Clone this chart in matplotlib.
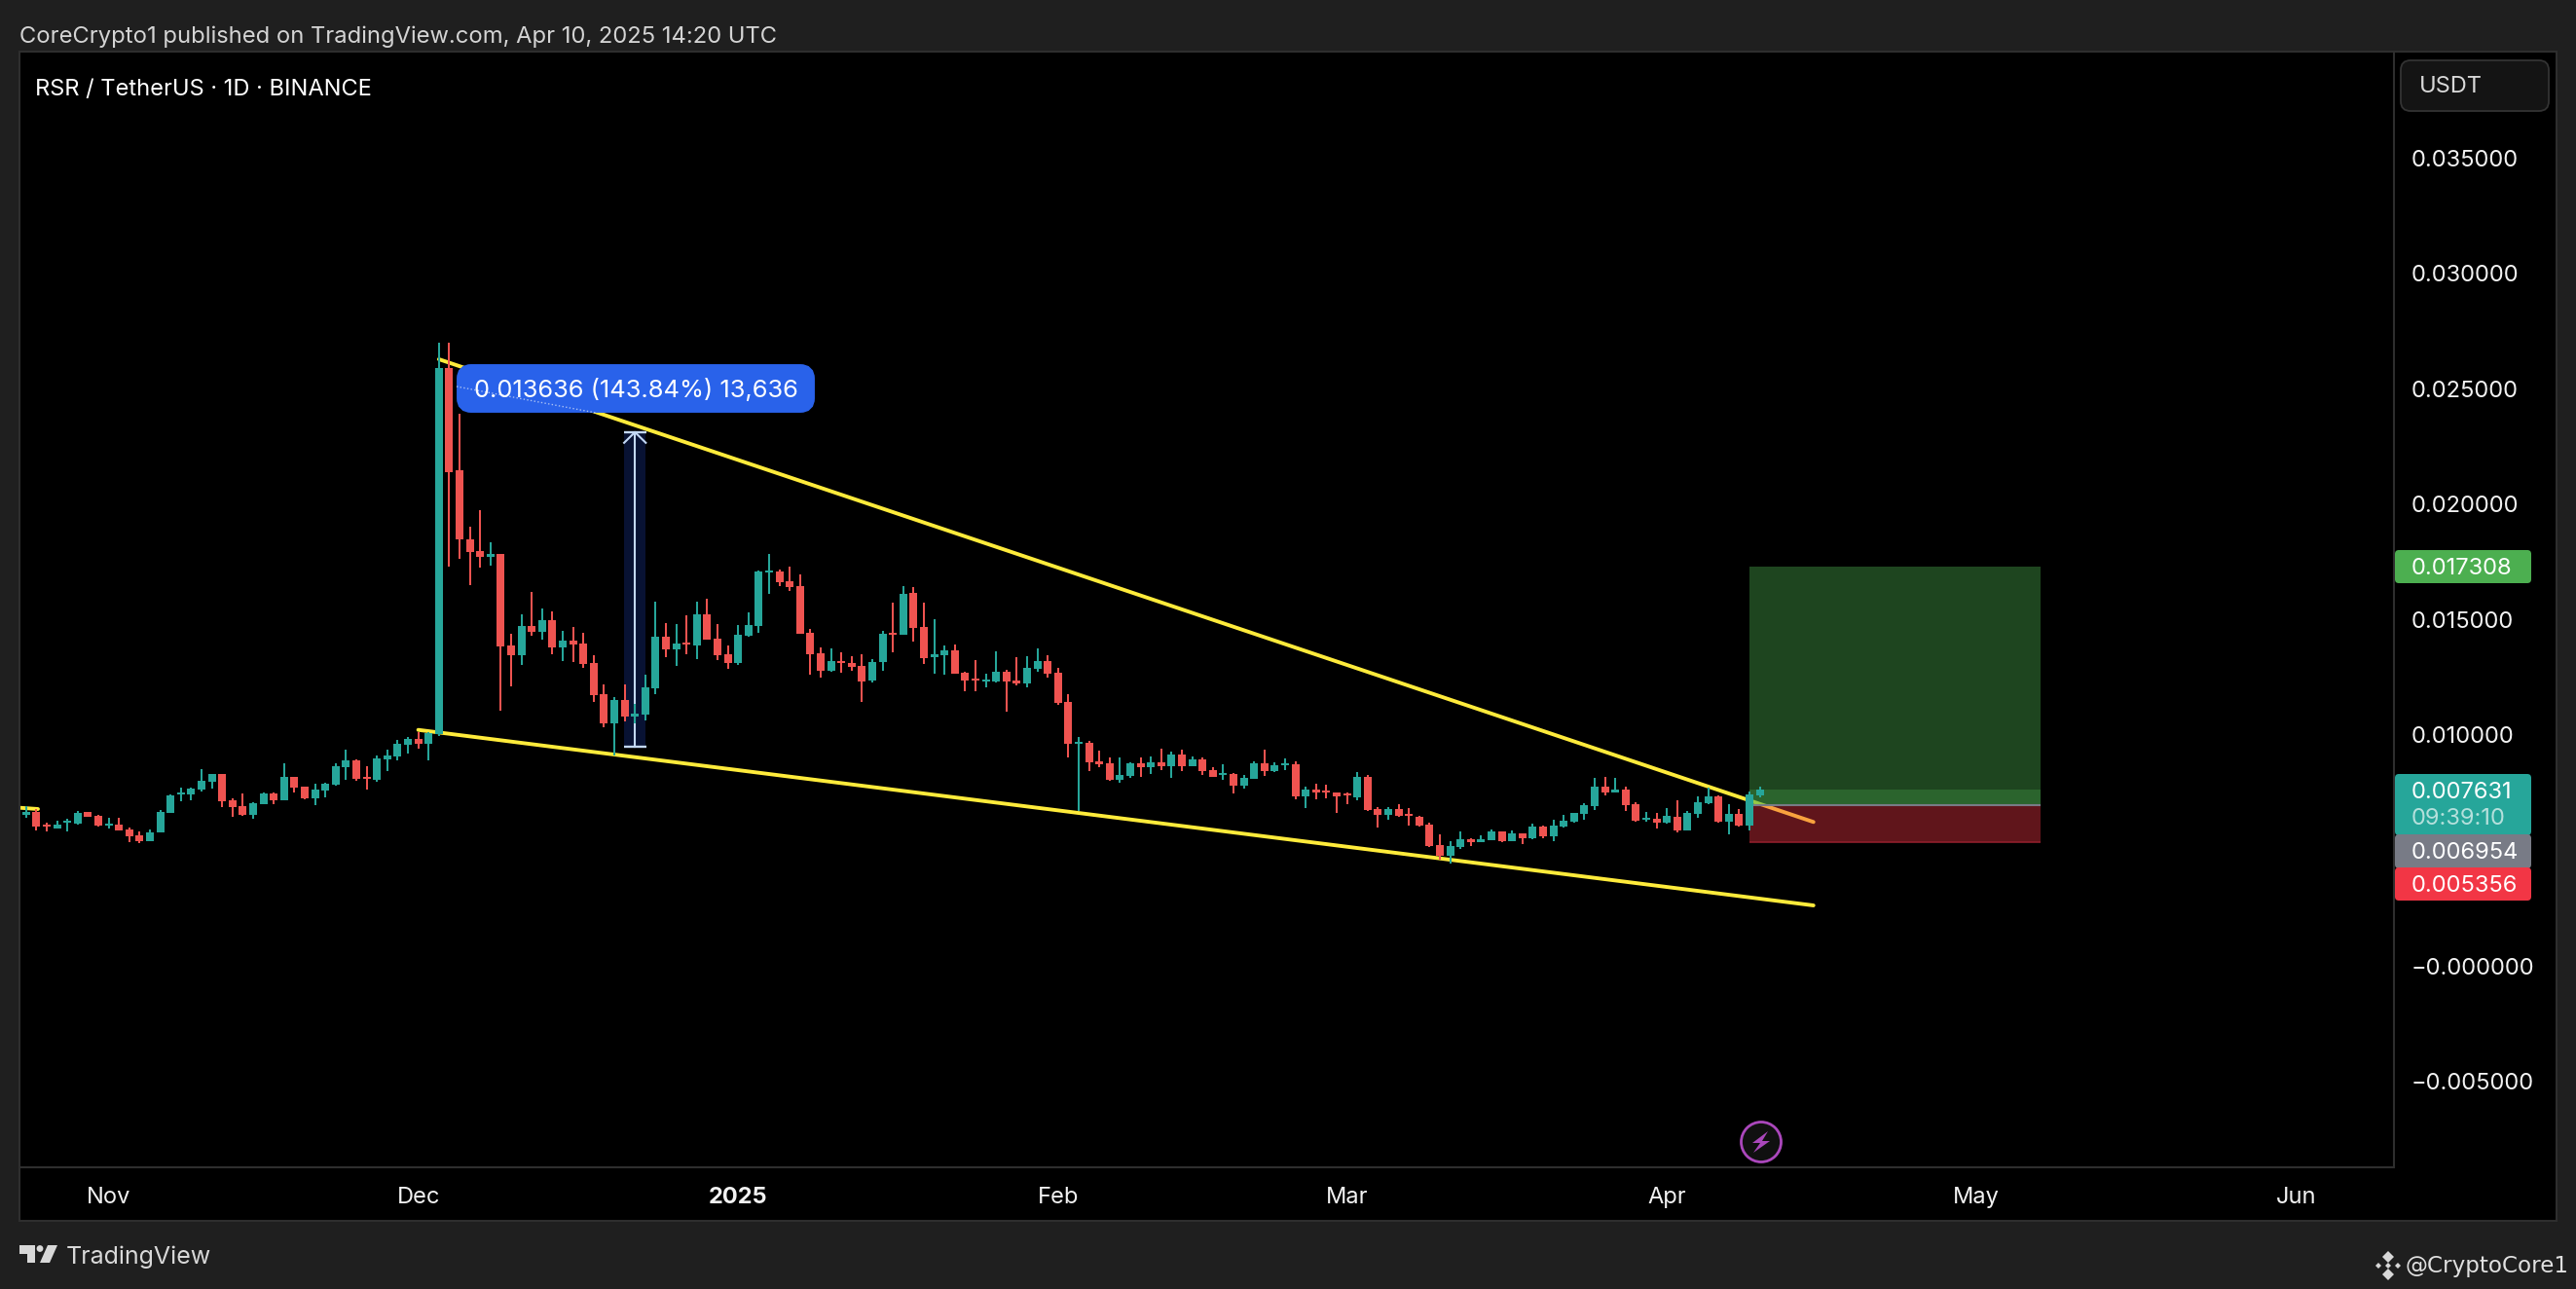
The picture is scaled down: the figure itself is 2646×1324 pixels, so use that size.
import matplotlib
matplotlib.use('Agg')
import matplotlib.pyplot as plt
import numpy as np
import pandas as pd
from matplotlib.patches import Rectangle, FancyBboxPatch, Polygon, Circle

plt.rcParams['font.family'] = ['Inter', 'DejaVu Sans']

# prices in millionths of a USDT, one value per daily candle
first_day = '2024-10-24'
high = [6917,6788,6191,6287,6368,6707,6659,6529,6400,6400,
        5981,5820,5900,6755,7417,7723,7723,8514,8304,8304,
        7255,7465,7078,7498,7530,8772,8191,7756,7885,7933,
        8772,9369,8950,8643,9095,9369,9773,9934,10144,10144,
        27005,27005,23907,19018,19744,18340,17840,14387,15226,16194,
        15484,15355,14516,14678,14420,13451,12193,11628,12179,11350,
        12600,15776,14849,14807,15186,15776,15903,14807,13879,14764,
        15313,17125,17842,17167,17294,16957,14596,13795,13753,13584,
        13415,13500,13289,14512,15734,16451,16409,15734,15017,13879,
        13921,12741,13247,12657,13626,12825,13373,13415,13753,13458,
        12909,11771,9916,9748,9326,9031,9031,8820,9031,9073,
        9410,9284,9368,9073,9031,8609,8735,8356,8272,8862,
        9368,8820,8988,8862,7766,7892,7850,7513,7513,8398,
        8272,6881,6881,7007,6838,6501,6206,5700,5405,5826,
        5532,5658,5911,5826,5869,5742,6164,6080,6332,6543,
        6628,7049,8145,8187,8145,7766,7091,6670,6628,6838,
        7176,6712,7344,7724,7387,7007,6796,7555,7766]
low = [6417,5868,5820,5949,5820,6142,6449,6029,5949,5868,
       5352,5319,5400,5787,6626,7126,7191,7546,7675,6884,
       6449,6497,6368,6997,6997,7175,7514,7207,6965,7304,
       7804,8062,8014,7643,7965,8433,8901,9192,9401,8901,
       9950,17291,17630,16485,17243,17340,11047,12112,13032,14290,
       14129,13500,13209,13161,12919,11434,10353,9127,10591,10506,
       10633,11785,13373,12994,13500,13289,14132,13247,12867,13036,
       14259,14427,16113,16451,16240,14385,12614,12488,12741,12699,
       12783,11434,12277,12783,13584,14343,14048,13078,12657,12614,
       12657,11898,11898,12066,12277,11012,12151,12066,12741,12488,
       11308,9031,6698,8440,8609,8019,7935,8145,8188,8314,
       8483,8145,8440,8651,8272,8187,8061,7471,7682,8103,
       8230,8398,8483,7218,6838,7218,7260,6628,7007,7176,
       6712,5995,6332,6459,6079,6037,5152,4604,4435,5068,
       5194,5363,5447,5363,5405,5279,5489,5532,5405,5995,
       6206,6332,6754,7386,7513,6712,6248,6248,5953,6164,
       5785,5869,6417,7007,6206,5700,6037,5869,7302]
open_ = [6562,6659,6110,5965,6191,6158,6659,6497,6094,6110,
         5900,5658,5400,5787,6626,7417,7449,7627,7965,8304,
         7175,6917,6562,6997,7465,7175,8191,7756,7255,7594,
         7869,8627,8885,8175,8046,8950,9079,9579,9821,9612,
         10031,25875,21470,18469,17969,17695,17840,13871,13451,14726,
         14468,14968,13807,14081,13968,13113,11774,10499,11518,10801,
         10886,12024,14259,13710,14006,13879,15228,14174,13500,13120,
         14301,14722,17041,17083,16662,16451,14427,13542,12783,13205,
         13120,12994,12361,13162,14427,14343,16156,14680,13373,13458,
         13668,12699,12446,12319,12319,12741,12361,12235,12867,13205,
         12699,11434,9621,9663,8862,8778,8061,8230,8778,8609,
         8820,8651,9157,8651,8946,8483,8272,8314,7808,8103,
         8778,8440,8693,8735,7344,7639,7597,7513,7471,7302,
         8187,6796,6543,6796,6585,6459,6122,5236,4773,5152,
         5489,5363,5447,5826,5405,5742,5532,6037,5616,6037,
         6248,6585,6923,7766,7513,7640,7007,6333,6375,6206,
         6459,5869,6586,7049,7344,6248,6586,6080,7387]
close = [6659,6029,6029,6126,6271,6642,6449,6078,6174,5868,
         5610,5400,5803,6659,7385,7514,7675,8014,8304,7126,
         6884,6562,7046,7465,7159,8191,7723,7239,7643,7885,
         8643,8885,8094,8111,8982,9111,9612,9821,9612,10095,
         25875,21390,18453,17937,17711,17840,13855,13451,14726,14468,
         14968,13807,14081,13919,13080,11725,10499,11516,10801,10928,
         12066,14259,13710,13963,13921,15228,14132,13458,13120,14343,
         14764,17083,17125,16619,16409,14385,13500,12783,13205,13120,
         12952,12319,13162,14385,14343,16113,14638,13331,13500,13668,
         12657,12361,12361,12404,12741,12319,12235,12909,13205,12657,
         11392,9621,9705,8820,8736,8061,8272,8778,8609,8820,
         8651,9157,8651,8946,8440,8187,8356,7808,8145,8778,
         8440,8693,8778,7344,7639,7513,7513,7344,7386,8187,
         6754,6543,6796,6501,6501,6079,5194,4773,5194,5489,
         5363,5489,5826,5405,5742,5532,6037,5616,6080,6290,
         6628,6965,7766,7513,7640,6965,6290,6417,6206,6501,
         5869,6628,7091,7344,6248,6586,6080,7429,7631]

# drawing tools, x in days since first_day, price in millionths
upper_x = [40, 173.2]
upper_p = [26274, 6235]
lower_x = [38, 173.2]
lower_p = [10223, 2622]
stub_x = [-0.64, 1.15]
stub_p = [6851, 6796]
measure_x = 59
measure_from = 9480
measure_to = 23116
pos_x = [167, 195.2]
pos_target = 17308
pos_entry = 6954
pos_stop = 5356
last_close = 7631

price_ticks = [35000, 30000, 25000, 20000, 15000, 10000, 0, -5000]
month_dates = ['2024-11-01', '2024-12-01', '2025-01-01', '2025-02-01', '2025-03-01',
               '2025-04-01', '2025-05-01', '2025-06-01']
month_labels = ['Nov', 'Dec', '2025', 'Feb', 'Mar', 'Apr', 'May', 'Jun']

TEAL = '#26a69a'
RED = '#ef5350'
YELLOW = '#ffeb3b'
PANEL = '#1f1f1f'
EDGE = '#2e2e2e'

W, H = 2646, 1324
fig = plt.figure(figsize=(W / 100, H / 100), dpi=100, facecolor=PANEL)

# frame behind everything, in pixels
bg = fig.add_axes([0, 0, 1, 1], zorder=0)
bg.set_xlim(0, W)
bg.set_ylim(H, 0)
bg.axis('off')
bg.add_patch(Rectangle((20, 53), 2606, 1201, fc='black', ec=EDGE, lw=1.5))

ax = fig.add_axes([20 / W, (H - 1199) / H, 2439 / W, 1146 / H], zorder=1)
ax.set_facecolor('black')
ax.set_xlim(-0.6415, 229.45)
ax.set_ylim(-8719 / 1e6, 39596 / 1e6)
for s in ax.spines.values():
    s.set_color(EDGE)
    s.set_linewidth(1.5)

days = np.arange(len(close))
o = np.array(open_) / 1e6
c = np.array(close) / 1e6
hi = np.array(high) / 1e6
lo = np.array(low) / 1e6
colors = [TEAL if b >= a else RED for a, b in zip(o, c)]

# trend lines go under the position box
ax.plot(upper_x, np.array(upper_p) / 1e6, color=YELLOW, lw=2.8, solid_capstyle='round', zorder=2)
ax.plot(lower_x, np.array(lower_p) / 1e6, color=YELLOW, lw=2.8, solid_capstyle='round', zorder=2)
ax.plot(stub_x, np.array(stub_p) / 1e6, color=YELLOW, lw=2.8, solid_capstyle='round', zorder=2)

# long position box
t, e, st, lc = pos_target / 1e6, pos_entry / 1e6, pos_stop / 1e6, last_close / 1e6
bw = pos_x[1] - pos_x[0]
ax.add_patch(Rectangle((pos_x[0], e), bw, t - e, fc='#4caf50', alpha=0.4, lw=0, zorder=3))
ax.add_patch(Rectangle((pos_x[0], e), bw, lc - e, fc='#4caf50', alpha=0.3, lw=0, zorder=3))
ax.add_patch(Rectangle((pos_x[0], st), bw, e - st, fc='#f23645', alpha=0.4, lw=0, zorder=3))
ax.plot(pos_x, [e, e], color='#787b86', lw=1.5, zorder=3, solid_capstyle='butt')
ax.plot(pos_x, [st, st], color='#8f1f2b', lw=1.2, zorder=3, solid_capstyle='butt')

# measure tool
mf, mt = measure_from / 1e6, measure_to / 1e6
ax.add_patch(Rectangle((measure_x - 1.05, mf), 2.1, mt - mf, fc='#081233', lw=0, zorder=3))
ax.plot([measure_x, measure_x], [mf, mt], color='#c3d8f5', lw=1.5, zorder=4)
ax.plot([measure_x - 1.1, measure_x + 1.1], [mf, mf], color='#c3d8f5', lw=1.7, zorder=4, solid_capstyle='butt')
ax.plot([measure_x - 1.1, measure_x + 1.1], [mt, mt], color='#c3d8f5', lw=1.7, zorder=4, solid_capstyle='butt')
ax.plot([measure_x - 1.05, measure_x, measure_x + 1.05], [mt - 0.00046, mt, mt - 0.00046],
        color='#c3d8f5', lw=1.5, zorder=4)

# candles
ax.vlines(days, lo, hi, colors=colors, lw=1.45, zorder=5)
ax.bar(days, np.abs(c - o), bottom=np.minimum(o, c), width=0.76, color=colors, lw=0, zorder=6)

ax.yaxis.tick_right()
ax.set_yticks([p / 1e6 for p in price_ticks])
ax.set_yticklabels(['\u2212' + f'{abs(p) / 1e6:.6f}' if p <= 0 else f'{p / 1e6:.6f}' for p in price_ticks],
                   fontsize=17, color='#f2f2f2')
ax.tick_params(axis='y', length=0, pad=12.5)
month_pos = [(pd.Timestamp(d) - pd.Timestamp(first_day)).days for d in month_dates]
ax.set_xticks(month_pos)
ax.set_xticklabels(month_labels, fontsize=17, color='#f2f2f2')
ax.tick_params(axis='x', length=0, pad=14.5)
for lab in ax.get_xticklabels():
    if lab.get_text() == '2025':
        lab.set_fontweight('bold')

# everything on top, in pixels
ui = fig.add_axes([0, 0, 1, 1], zorder=2)
ui.set_xlim(0, W)
ui.set_ylim(H, 0)
ui.axis('off')
ui.patch.set_alpha(0)

ui.text(20, 38, 'CoreCrypto1 published on TradingView.com, Apr 10, 2025 14:20 UTC',
        fontsize=17.1, color='#d4d4d4', va='center')
ui.text(36, 92, 'RSR / TetherUS \u00b7 1D \u00b7 BINANCE', fontsize=17, color='white', va='center')

# measure label
ui.add_patch(FancyBboxPatch((476, 381), 354, 36, boxstyle='round,pad=0,rounding_size=8',
                            mutation_aspect=1, fc='#2962ea', ec='#2962ea', lw=10))
ui.text(653, 401, '0.013636 (143.84%) 13,636', fontsize=18.3, color='white', ha='center', va='center')
ui.plot([469, 612], [397, 424], color='#a9c0f5', lw=1, ls=':')

# USDT button
ui.add_patch(FancyBboxPatch((2466, 62), 152, 52, boxstyle='round,pad=0,rounding_size=10',
                            fc='#141414', ec='#333333', lw=1.3))
ui.text(2485, 89, 'USDT', fontsize=17, color='#d8d8d8', va='center')


def badge(y0, y1, color, lines):
    ui.add_patch(FancyBboxPatch((2460, y0), 140, y1 - y0, boxstyle='round,pad=0,rounding_size=4',
                                fc=color, ec='none'))
    for yy, txt, col in lines:
        ui.text(2477, yy, txt, fontsize=17, color=col, va='center')


badge(565, 599, '#4caf50', [(584, f'{pos_target / 1e6:.6f}', 'white')])
badge(795, 858, TEAL, [(814, f'{last_close / 1e6:.6f}', 'white'), (841, '09:39:10', '#b5e0dc')])
badge(857, 892, '#787b86', [(876, f'{pos_entry / 1e6:.6f}', 'white')])
badge(891, 925, '#f23645', [(910, f'{pos_stop / 1e6:.6f}', 'white')])

# lightning marker
ui.add_patch(Circle((1809, 1173), 20.5, fc='#101010', ec='#ab47bc', lw=2))
ui.add_patch(Polygon([(1816, 1162), (1800, 1174), (1808, 1174), (1801, 1184), (1818, 1172), (1810, 1172)],
                     fc='#ab47bc', ec='none'))

# TradingView logo and text
logo = '#d8d8d8'
ui.add_patch(Polygon([(20, 1279), (36, 1279), (36, 1297), (28, 1297), (28, 1288), (20, 1288)], fc=logo, ec='none'))
ui.add_patch(Circle((41, 1282.5), 3.4, fc=logo, ec='none'))
ui.add_patch(Polygon([(49, 1279), (59, 1279), (51, 1297), (41, 1297)], fc=logo, ec='none'))
ui.text(68, 1291, 'TradingView', fontsize=18, color=logo, va='center')

# watermark
for dx, dy, r in [(0, -9, 6), (-10, 0, 3), (10, 0, 3), (0, 9, 6), (0, 0, 3)]:
    ui.add_patch(Polygon([(2453 + dx - r, 1300 + dy), (2453 + dx, 1300 + dy - r),
                          (2453 + dx + r, 1300 + dy), (2453 + dx, 1300 + dy + r)], fc=logo, ec='none'))
ui.text(2471, 1300, '@CryptoCore1', fontsize=16.6, color='#e0e0e0', va='center', family='DejaVu Sans')

fig.savefig('out.png', dpi=100, facecolor=PANEL)
